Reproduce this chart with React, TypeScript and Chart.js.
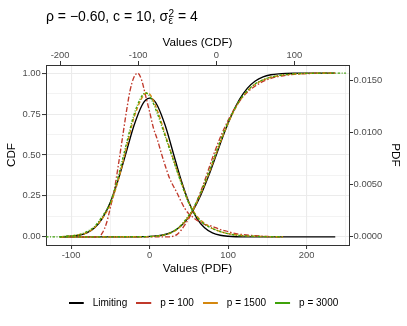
import React, { useEffect, useRef } from 'react';
import { Chart, registerables } from 'chart.js';

Chart.register(...registerables);

const FONT = '"Liberation Sans", Arial, Helvetica, sans-serif';

const seriesNames = ['Limiting', 'p = 100', 'p = 1500', 'p = 3000'];
const seriesColors = ['#000000', '#C0392B', '#D4870E', '#3FA20A'];
const seriesDashes: number[][] = [[], [5, 2, 1.5, 2], [4, 2], [2.5, 1.5, 1, 1.5]];

// ---- PDF curves (bottom axis "Values (PDF)", right axis "PDF") ----
const pdfXLimiting = [-114.5, -100, -90, -80, -70, -60, -50, -40, -30, -20, -10, -5, 0, 5, 10, 20, 30, 40, 50, 60, 70, 80, 90, 100, 110, 120, 150, 200, 236.5];
const pdfYLimiting = [0.00001, 0.00005, 0.00015, 0.00038, 0.00087, 0.0018, 0.00332, 0.00547, 0.00807, 0.01065, 0.01258, 0.01312, 0.0133, 0.01312, 0.01258, 0.01065, 0.00807, 0.00547, 0.00332, 0.0018, 0.00087, 0.00038, 0.00015, 0.00005, 0.00001, 0, 0, 0, 0];

const pdfXp100 = [-114.5, -80, -65, -60, -55, -50, -45, -40, -35, -30, -25, -20, -15, -10, -5, 0, 5, 10, 15, 20, 25, 30, 35, 40, 45, 50, 55, 60, 70, 80, 90, 100, 110, 120, 135, 150, 170];
const pdfYp100 = [0, 0, 0, 0.0004, 0.0013, 0.0028, 0.0045, 0.0068, 0.0093, 0.0118, 0.014, 0.0153, 0.0157, 0.015, 0.0135, 0.012, 0.0104, 0.0093, 0.008, 0.0068, 0.0057, 0.0049, 0.0042, 0.0034, 0.0027, 0.0022, 0.0019, 0.0016, 0.0012, 0.001, 0.0007, 0.0005, 0.0003, 0.0002, 0.0001, 0.00003, 0];

const pdfXp1500 = [-114.5, -100, -90, -80, -70, -60, -50, -40, -30, -20, -10, -4, 0, 10, 20, 30, 40, 50, 60, 70, 80, 90, 100, 110, 120, 140, 170];
const pdfYp1500 = [0, 0.0001, 0.0002, 0.0004, 0.0009, 0.0018, 0.0031, 0.0054, 0.0084, 0.0114, 0.0133, 0.0138, 0.0137, 0.0121, 0.0098, 0.0075, 0.0053, 0.0033, 0.002, 0.0013, 0.0008, 0.0005, 0.0003, 0.0002, 0.0001, 0.00004, 0];

const pdfXp3000 = [-114.5, -100, -90, -80, -70, -60, -50, -40, -30, -20, -10, -5, 0, 10, 20, 30, 40, 50, 60, 70, 80, 90, 100, 110, 120, 140, 170];
const pdfYp3000 = [0, 0.0001, 0.0002, 0.0005, 0.001, 0.002, 0.0033, 0.0058, 0.0088, 0.0117, 0.0135, 0.0138, 0.0135, 0.0118, 0.0096, 0.0074, 0.0052, 0.0032, 0.0019, 0.0012, 0.0008, 0.0005, 0.0003, 0.00015, 0.0001, 0.00003, 0];

// ---- CDF curves (top axis "Values (CDF)", left axis "CDF") ----
const cdfXLimiting = [-200, -120, -100, -90, -80, -70, -60, -50, -40, -30, -20, -10, 0, 10, 20, 30, 40, 50, 60, 70, 80, 90, 100, 120, 152];
const cdfYLimiting = [0, 0.00003, 0.0004, 0.0013, 0.0038, 0.0098, 0.0228, 0.0478, 0.0912, 0.1587, 0.2525, 0.3694, 0.5, 0.6306, 0.7475, 0.8413, 0.9088, 0.9522, 0.9772, 0.9902, 0.9962, 0.9987, 0.9996, 1, 1];

const cdfXp100 = [-200, -70, -60, -55, -50, -45, -40, -35, -30, -25, -20, -15, -10, -5, 0, 5, 10, 15, 20, 25, 30, 35, 40, 45, 50, 55, 60, 70, 80, 90, 100, 110, 120, 135, 152];
const cdfYp100 = [0, 0, 0, 0.004, 0.015, 0.04, 0.075, 0.113, 0.16, 0.215, 0.275, 0.34, 0.41, 0.48, 0.545, 0.605, 0.66, 0.71, 0.755, 0.795, 0.83, 0.86, 0.885, 0.905, 0.922, 0.937, 0.95, 0.968, 0.98, 0.988, 0.993, 0.996, 0.998, 1, 1];

const cdfXp1500 = [-200, -100, -90, -80, -70, -60, -50, -40, -30, -20, -10, 0, 10, 20, 30, 40, 50, 60, 70, 80, 90, 100, 120, 140, 152];
const cdfYp1500 = [0, 0.0002, 0.0008, 0.0025, 0.008, 0.02, 0.046, 0.094, 0.163, 0.262, 0.38, 0.51, 0.635, 0.743, 0.83, 0.892, 0.932, 0.958, 0.975, 0.985, 0.991, 0.995, 0.999, 1, 1];

const cdfXp3000 = [-218, -100, -90, -80, -70, -60, -50, -40, -30, -20, -10, 0, 10, 20, 30, 40, 50, 60, 70, 80, 90, 100, 120, 140, 166];
const cdfYp3000 = [0, 0.0003, 0.001, 0.003, 0.009, 0.022, 0.05, 0.1, 0.17, 0.27, 0.39, 0.52, 0.645, 0.75, 0.835, 0.895, 0.935, 0.96, 0.976, 0.986, 0.992, 0.996, 0.999, 1, 1];

// ---- axes ----
const bottomTicks = [-100, -50, 0, 50, 100, 150, 200, 250];
const bottomLabelled = [-100, 0, 100, 200];
const topTicks = [-200, -100, 0, 100];
const cdfTicks = [0, 0.125, 0.25, 0.375, 0.5, 0.625, 0.75, 0.875, 1];
const cdfLabelled = [0, 0.25, 0.5, 0.75, 1];
const pdfTicks = [0, 0.005, 0.01, 0.015];

const bottomRange = [-132, 254];
const topRange = [-218, 170];
const cdfRange = [-0.05, 1.05];
const pdfRange = [-0.000785, 0.016485];

const isIn = (arr: number[], v: number) => arr.some((a) => Math.abs(a - v) < 1e-9);

function makeKey(color: string) {
  const c = document.createElement('canvas');
  c.width = 19;
  c.height = 4;
  const g = c.getContext('2d')!;
  g.fillStyle = color;
  g.fillRect(0, 1, 15, 2);
  return c;
}

export default function App() {
  const ref = useRef<HTMLCanvasElement | null>(null);

  useEffect(() => {
    if (!ref.current) return;
    const mk = (i: number, xs: number[], ys: number[], xAxisID: string, yAxisID: string) => ({
      label: seriesNames[i],
      data: xs.map((x, k) => ({ x, y: ys[k] })),
      borderColor: seriesColors[i],
      backgroundColor: seriesColors[i],
      borderDash: seriesDashes[i],
      borderWidth: 1.35,
      pointRadius: 0,
      pointHoverRadius: 0,
      fill: false,
      cubicInterpolationMode: 'monotone' as const,
      xAxisID,
      yAxisID,
      order: 3 - i,
    });
    const datasets = [
      mk(0, pdfXLimiting, pdfYLimiting, 'xb', 'yr'),
      mk(1, pdfXp100, pdfYp100, 'xb', 'yr'),
      mk(2, pdfXp1500, pdfYp1500, 'xb', 'yr'),
      mk(3, pdfXp3000, pdfYp3000, 'xb', 'yr'),
      mk(0, cdfXLimiting, cdfYLimiting, 'xt', 'yl'),
      mk(1, cdfXp100, cdfYp100, 'xt', 'yl'),
      mk(2, cdfXp1500, cdfYp1500, 'xt', 'yl'),
      mk(3, cdfXp3000, cdfYp3000, 'xt', 'yl'),
    ];
    const keys = seriesColors.map(makeKey);
    const tickFont = { family: FONT, size: 9.4 };
    const titleFont = { family: FONT, size: 11.7 };
    const gridColor = '#EBEBEB';
    const axisColor = '#333333';
    const tickColor = '#4D4D4D';

    const chart = new Chart(ref.current, {
      type: 'line',
      data: { datasets },
      options: {
        animation: false,
        responsive: false,
        devicePixelRatio: 1,
        layout: { padding: { left: 0, right: 0, top: 0, bottom: 8 } },
        plugins: {
          title: { display: false },
          tooltip: { enabled: false },
          legend: {
            position: 'bottom',
            labels: {
              usePointStyle: true,
              pointStyleWidth: 19,
              boxHeight: 10,
              padding: 9,
              color: '#000000',
              font: { family: FONT, size: 10 },
              generateLabels: () =>
                seriesNames.map((s, i) => ({
                  text: s,
                  pointStyle: keys[i] as any,
                  fillStyle: seriesColors[i],
                  strokeStyle: seriesColors[i],
                  lineWidth: 0,
                  hidden: false,
                  datasetIndex: i,
                  fontColor: '#000000',
                })),
            },
          },
        },
        scales: {
          xb: {
            type: 'linear',
            position: 'bottom',
            min: bottomRange[0],
            max: bottomRange[1],
            afterBuildTicks: (s: any) => {
              s.ticks = bottomTicks.map((value) => ({ value }));
            },
            afterFit: (s: any) => {
              s.height = 44;
            },
            ticks: {
              autoSkip: false,
              maxRotation: 0,
              padding: 0.5,
              color: tickColor,
              font: tickFont,
              callback: (v: any) => (isIn(bottomLabelled, Number(v)) ? String(v) : ''),
            },
            grid: {
              color: gridColor,
              lineWidth: (c: any) => (c.tick && isIn(bottomLabelled, c.tick.value) ? 1.1 : 0.6),
              tickLength: 4,
              tickWidth: 1,
              tickColor: (c: any) => (c.tick && isIn(bottomLabelled, c.tick.value) ? axisColor : 'rgba(0,0,0,0)'),
            },
            border: { display: true, color: axisColor, width: 1 },
            title: {
              display: true,
              text: 'Values (PDF)',
              color: '#000000',
              font: titleFont,
              padding: { top: 0, bottom: 13 },
            },
          },
          xt: {
            type: 'linear',
            position: 'top',
            min: topRange[0],
            max: topRange[1],
            afterBuildTicks: (s: any) => {
              s.ticks = topTicks.map((value) => ({ value }));
            },
            afterFit: (s: any) => {
              s.height = 65;
            },
            ticks: {
              autoSkip: false,
              maxRotation: 0,
              padding: 0,
              color: tickColor,
              font: tickFont,
              callback: (v: any) => String(v),
            },
            grid: {
              drawOnChartArea: false,
              tickLength: 4,
              tickWidth: 1,
              tickColor: axisColor,
            },
            border: { display: true, color: axisColor, width: 1 },
            title: {
              display: true,
              text: 'Values (CDF)',
              color: '#000000',
              font: titleFont,
              padding: { top: 36, bottom: 0 },
            },
          },
          yl: {
            type: 'linear',
            position: 'left',
            min: cdfRange[0],
            max: cdfRange[1],
            afterBuildTicks: (s: any) => {
              s.ticks = cdfTicks.map((value) => ({ value }));
            },
            afterFit: (s: any) => {
              s.width = 46;
            },
            ticks: {
              autoSkip: false,
              padding: 1.2,
              color: tickColor,
              font: tickFont,
              callback: (v: any) => (isIn(cdfLabelled, Number(v)) ? Number(v).toFixed(2) : ''),
            },
            grid: {
              color: gridColor,
              lineWidth: (c: any) => (c.tick && isIn(cdfLabelled, c.tick.value) ? 1.1 : 0.6),
              tickLength: 4,
              tickWidth: 1,
              tickColor: (c: any) => (c.tick && isIn(cdfLabelled, c.tick.value) ? axisColor : 'rgba(0,0,0,0)'),
            },
            border: { display: true, color: axisColor, width: 1 },
            title: {
              display: true,
              text: 'CDF',
              color: '#000000',
              font: titleFont,
              padding: { top: 4.7, bottom: 0 },
            },
          },
          yr: {
            type: 'linear',
            position: 'right',
            min: pdfRange[0],
            max: pdfRange[1],
            afterBuildTicks: (s: any) => {
              s.ticks = pdfTicks.map((value) => ({ value }));
            },
            afterFit: (s: any) => {
              s.width = 58;
            },
            ticks: {
              autoSkip: false,
              padding: 0.6,
              color: tickColor,
              font: tickFont,
              callback: (v: any) => Number(v).toFixed(4),
            },
            grid: {
              drawOnChartArea: false,
              tickLength: 4,
              tickWidth: 1,
              tickColor: axisColor,
            },
            border: { display: true, color: axisColor, width: 1 },
            title: {
              display: true,
              text: 'PDF',
              color: '#000000',
              font: titleFont,
              padding: { top: 5, bottom: 0 },
            },
          },
        },
      } as any,
    });
    return () => chart.destroy();
  }, []);

  return (
    <div style={{ position: 'absolute', left: 0, top: 0, width: 407, height: 326, background: '#ffffff' }}>
      <canvas ref={ref} width={407} height={326} style={{ position: 'absolute', left: 0, top: 0, width: 407, height: 326 }} />
      <div
        style={{
          position: 'absolute',
          left: 46,
          top: 6,
          fontFamily: FONT,
          fontSize: 14,
          lineHeight: '20px',
          color: '#000000',
          whiteSpace: 'nowrap',
        }}
      >
        ρ = −0.60, c = 10, σ
        <span style={{ display: 'inline-block', position: 'relative', width: 6, height: 14 }}>
          <span style={{ position: 'absolute', left: 0.5, top: 1.7, fontSize: 10, lineHeight: '10px' }}>2</span>
          <span style={{ position: 'absolute', left: 0.5, top: 9, fontSize: 10, lineHeight: '10px' }}>ε</span>
        </span>
        {' = 4'}
      </div>
    </div>
  );
}
